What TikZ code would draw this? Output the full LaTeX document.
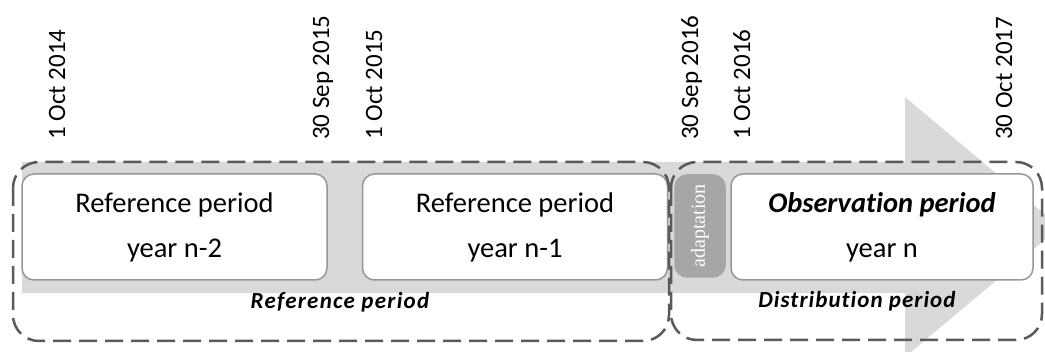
\documentclass[tikz,border=0pt]{standalone}
\usepackage{fontspec}
\setmainfont{Carlito}[Ligatures=NoCommon]
\newfontfamily\adaptfont{Liberation Serif}
\usetikzlibrary{positioning}
\definecolor{band}{HTML}{D9D9D9}
\definecolor{boxline}{HTML}{969696}
\definecolor{dashline}{HTML}{5A5A5A}
\definecolor{adaptfill}{HTML}{A6A6A6}

\begin{document}
\begin{tikzpicture}[x=1pt,y=-1pt,
  period/.style={draw=boxline,line width=1.5pt,fill=white,rounded corners=12pt,
    minimum width=305pt,minimum height=106pt,align=center,inner sep=0pt,
    font=\fontsize{28.5}{45}\selectfont},
  dashbox/.style={draw=dashline,line width=2.5pt,dash pattern=on 18pt off 8pt,
    rounded corners=26pt},
  datelabel/.style={rotate=90,anchor=base west,inner sep=0pt,
    font=\fontsize{25}{30}\selectfont},
  caption/.style={inner sep=0pt,font=\fontsize{23}{26}\selectfont\bfseries\itshape}]

\useasboundingbox (0,0) rectangle (1045,352);

% timeline arrow
\fill[band] (22,162) -- (905,162) -- (905,97) -- (1060,227) -- (905,357)
  -- (905,293) -- (22,293) -- cycle;

% periods
\node[period] (refA) at (174.5,227) {Reference period\\year n-2};
\node[period,right=34pt of refA] (refB) {Reference period\\year n-1};
\node[period,rotate=90,fill=adaptfill,draw=adaptfill,minimum width=102pt,
  minimum height=50pt,font=\fontsize{20}{22}\adaptfont\color{white}] (adapt) at (700,226) {adaptation};
\node[period,minimum width=302pt] (obs) at (882,227) {\textbf{\textit{Observation period}}\\year n};

% dashed groups
\draw[dashbox] (13,162) rectangle (669,341);
\draw[dashbox] (671,162) rectangle (1042,340);
\node[caption] (refcap) at (340,302) {\addfontfeature{LetterSpace=5.5}Reference period};
\node[caption] (distcap) at (857,301) {\addfontfeature{LetterSpace=4.5}Distribution period};

% dates
\def\dates{65/{1 Oct 2014},329/{30 Sep 2015},382/{1 Oct 2015},698/{30 Sep 2016},750/{1 Oct 2016},1012/{30 Oct 2017}}
\foreach \x / \d [count=\i] in \dates
  \node[datelabel] (date\i) at (\x,140) {\d};

\end{tikzpicture}
\end{document}
